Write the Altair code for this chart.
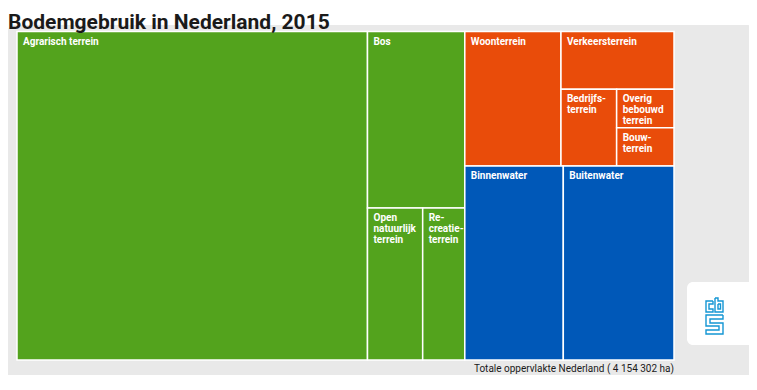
import altair as alt
import pandas as pd

# ---------------- data ----------------
title_text = "Bodemgebruik in Nederland, 2015"
footer_text = "Totale oppervlakte Nederland ( 4 154 302 ha)"

categories = ["Agrarisch terrein", "Bos", "Open natuurlijk terrein", "Recreatieterrein",
              "Woonterrein", "Verkeersterrein", "Bedrijfsterrein", "Overig bebouwd terrein",
              "Bouwterrein", "Binnenwater", "Buitenwater"]
labels = ["Agrarisch terrein", "Bos", "Open\nnatuurlijk\nterrein", "Re-\ncreatie-\nterrein",
          "Woonterrein", "Verkeersterrein", "Bedrijfs-\nterrein", "Overig\nbebouwd\nterrein",
          "Bouw-\nterrein", "Binnenwater", "Buitenwater"]
groups = ["Groen", "Groen", "Groen", "Groen",
          "Bebouwd", "Bebouwd", "Bebouwd", "Bebouwd", "Bebouwd",
          "Water", "Water"]
area_ha = [2216202, 330600, 161500, 123200,
           249000, 125700, 82200, 42400, 42300,
           367800, 413400]

group_names = ["Groen", "Bebouwd", "Water"]
group_colors = ["#53a31d", "#e94c0a", "#0058b8"]

# treemap structure (h = side by side, v = stacked)
structure = ("h", [
    "Agrarisch terrein",
    ("v", ["Bos", ("h", ["Open natuurlijk terrein", "Recreatieterrein"])]),
    ("v", [
        ("h", ["Woonterrein",
               ("v", ["Verkeersterrein",
                      ("h", ["Bedrijfsterrein",
                             ("v", ["Overig bebouwd terrein", "Bouwterrein"])])])]),
        ("h", ["Binnenwater", "Buitenwater"]),
    ]),
])

# ---------------- slice/dice layout from the values ----------------
value = dict(zip(categories, area_ha))


def total(node):
    if isinstance(node, str):
        return value[node]
    return sum(total(c) for c in node[1])


rects = {}


def layout(node, x0, y0, x1, y1):
    if isinstance(node, str):
        rects[node] = (x0, y0, x1, y1)
        return
    d, children = node
    t = total(node)
    pos = x0 if d == "h" else y0
    for c in children:
        frac = total(c) / t
        if d == "h":
            w = (x1 - x0) * frac
            layout(c, pos, y0, pos + w, y1)
            pos += w
        else:
            h = (y1 - y0) * frac
            layout(c, x0, pos, x1, pos + h)
            pos += h


layout(structure, 0.0, 0.0, 1.0, 1.0)

df = pd.DataFrame({
    "categorie": categories,
    "label": labels,
    "groep": groups,
    "ha": area_ha,
    "x0": [rects[c][0] for c in categories],
    "y0": [rects[c][1] for c in categories],
    "x1": [rects[c][2] for c in categories],
    "y1": [rects[c][3] for c in categories],
})

# ---------------- chart ----------------
W, H = 741, 367
xs = alt.Scale(domain=[0, 1], range=[9, 666])
ys = alt.Scale(domain=[0, 1], range=[23.5, 352])

one = alt.Data(values=[{"a": 1}])

panel = alt.Chart(one).mark_rect(fill="#e9e9e9", cornerRadius=8).encode(
    x=alt.value(-1), x2=alt.value(W + 6), y=alt.value(17), y2=alt.value(H + 20))

logo_box = alt.Chart(one).mark_rect(fill="white", cornerRadius=6).encode(
    x=alt.value(679), x2=alt.value(W + 20), y=alt.value(274), y2=alt.value(337))

tiles = alt.Chart(df).mark_rect(stroke="white", strokeWidth=1.5).encode(
    x=alt.X("x0:Q", scale=xs, axis=None),
    x2="x1:Q",
    y=alt.Y("y0:Q", scale=ys, axis=None),
    y2="y1:Q",
    color=alt.Color("groep:N", scale=alt.Scale(domain=group_names, range=group_colors), legend=None),
    tooltip=["categorie:N", "ha:Q"],
)

tile_labels = alt.Chart(df).mark_text(
    align="left", baseline="top", dx=6, dy=5, font="Roboto", fontSize=10,
    fontWeight="bold", color="white", lineBreak="\n", lineHeight=11,
).encode(
    x=alt.X("x0:Q", scale=xs, axis=None),
    y=alt.Y("y0:Q", scale=ys, axis=None),
    text="label:N",
)

title = alt.Chart(one).mark_text(
    text=title_text, align="left", baseline="alphabetic", font="Roboto",
    fontSize=21, fontWeight="bold", color="#1a1a1a",
).encode(x=alt.value(0), y=alt.value(21))

footer = alt.Chart(one).mark_text(
    text=footer_text, align="right", baseline="alphabetic", font="Roboto",
    fontSize=10, color="#1a1a1a",
).encode(x=alt.value(666), y=alt.value(364))

# CBS logo outline (decoration)
logo_pts = [
    ("c", [(705, 293), (698, 293), (698, 304), (705, 304), (705, 301), (701, 301), (701, 296), (705, 296), (705, 293)]),
    ("b", [(707, 290), (707, 304), (715, 304), (715, 293), (710, 293), (710, 290), (707, 290)]),
    ("bi", [(710, 296), (712.5, 296), (712.5, 301), (710, 301), (710, 296)]),
    ("s", [(715, 307), (698, 307), (698, 318), (711, 318), (711, 322), (698, 322), (698, 326), (715, 326),
           (715, 315), (702, 315), (702, 311), (715, 311), (715, 307)]),
]
logo_rows = []
for name, pts in logo_pts:
    for i, (px, py) in enumerate(pts):
        logo_rows.append({"shape": name, "i": i, "px": px, "py": py})
logo = alt.Chart(pd.DataFrame(logo_rows)).mark_line(color="#1496d4", strokeWidth=1.4).encode(
    x=alt.X("px:Q", scale=None, axis=None),
    y=alt.Y("py:Q", scale=None, axis=None),
    detail="shape:N",
    order="i:Q",
)

chart = alt.layer(panel, logo_box, tiles, tile_labels, title, footer, logo).resolve_scale(
    x="independent", y="independent"
).properties(
    width=W, height=H, padding=0, autosize=alt.AutoSizeParams(type="none")
).configure_view(stroke=None)

chart.save("out.html", embed_options={"renderer": "svg", "actions": False})
